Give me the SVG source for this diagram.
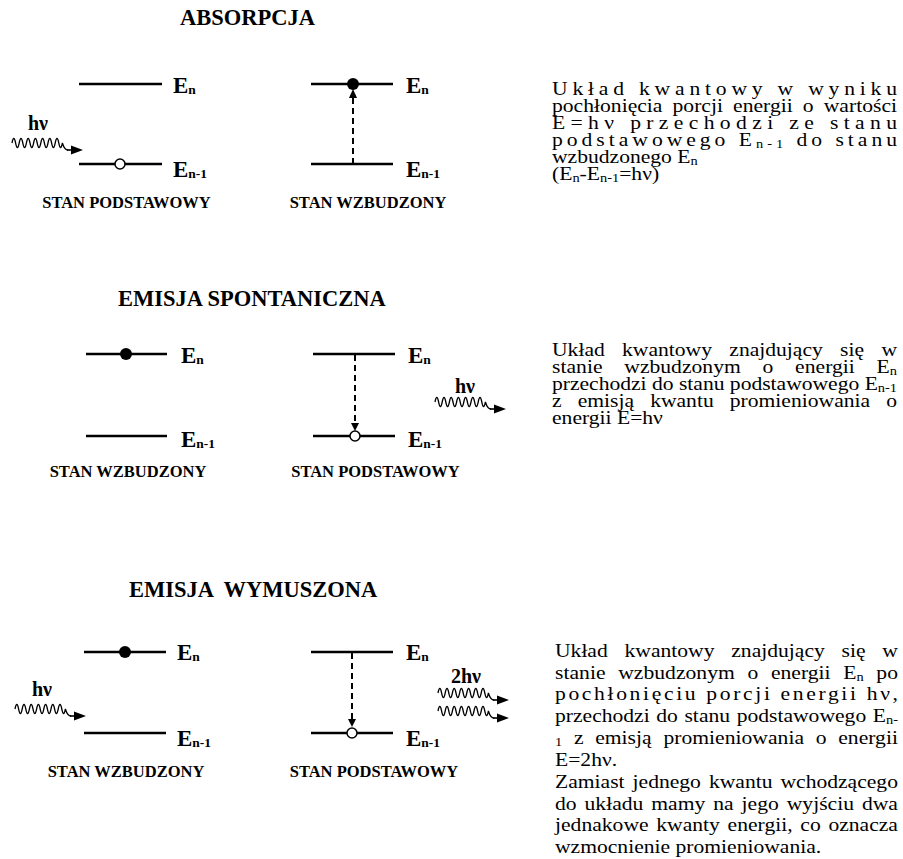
<svg xmlns="http://www.w3.org/2000/svg" width="903" height="859" viewBox="0 0 903 859">
<style>
text{font-family:"Liberation Serif","Times New Roman",serif;fill:#000}
.hd{font-weight:bold;font-size:22.5px}
.e{font-weight:bold;font-size:23px}
.sub{font-size:13.5px}
.st{font-weight:bold;font-size:16.5px;text-anchor:middle}
.hv{font-weight:bold;font-size:20px}
.p{font-size:18px}
.ps{font-size:12px}
.lvl{stroke:#000;stroke-width:2.5;fill:none}
.dash{stroke:#000;stroke-width:2;stroke-dasharray:6 4;fill:none}
.dot{fill:#000}
.hole{fill:#fff;stroke:#000;stroke-width:1.5}
.wave{fill:none;stroke:#000;stroke-width:1.3}
.arl{fill:none;stroke:#000;stroke-width:1.6}
.ah{fill:#000}
</style>
<defs>
<g id="photon">
<path class="wave" d="M0,1 Q1.8,-8 3.6,1 T7.2,1 T10.8,1 T14.4,1 T18,1 T21.6,1 T25.2,1 T28.8,1 T32.4,1 T36,1 T39.6,1 T43.2,1 T46.8,1 T50.4,1 Q52.5,8 56,8"/>
<path class="arl" d="M55,8 L61,8"/>
<polygon class="ah" points="59,3.5 71,8 59,12.5"/>
</g>
</defs>

<!-- headings -->
<g id="headings">
<text class="hd" x="180" y="25">ABSORPCJA</text>
<text class="hd" x="118" y="306">EMISJA SPONTANICZNA</text>
<text class="hd" x="129" y="597" xml:space="preserve">EMISJA  WYMUSZONA</text>
</g>

<!-- ABSORPCJA: ground state -->
<g id="abs-ground">
<line class="lvl" x1="79" y1="84" x2="162" y2="84"/>
<line class="lvl" x1="79" y1="164" x2="162" y2="164"/>
<circle class="hole" cx="120" cy="164" r="5"/>
<text class="e" x="173" y="92.5">E<tspan class="sub" dy="1">n</tspan></text>
<text class="e" x="173" y="176.5">E<tspan class="sub" dy="1">n-1</tspan></text>
<text class="hv" x="28" y="130">hν</text>
<text class="st" x="126.5" y="207.5">STAN PODSTAWOWY</text>
</g>

<!-- ABSORPCJA: excited state -->
<g id="abs-excited">
<line class="lvl" x1="311" y1="84" x2="393" y2="84"/>
<line class="lvl" x1="311" y1="164" x2="393" y2="164"/>
<circle class="dot" cx="353" cy="84" r="6"/>
<text class="e" x="406" y="92.5">E<tspan class="sub" dy="1">n</tspan></text>
<text class="e" x="406" y="176.5">E<tspan class="sub" dy="1">n-1</tspan></text>
<text class="st" x="368" y="207.5">STAN WZBUDZONY</text>
</g>

<!-- EMISJA SPONTANICZNA: excited -->
<g id="spont-excited">
<line class="lvl" x1="86" y1="354" x2="167" y2="354"/>
<line class="lvl" x1="86" y1="436" x2="167" y2="436"/>
<circle class="dot" cx="126" cy="354" r="6"/>
<text class="e" x="181" y="362.5">E<tspan class="sub" dy="1">n</tspan></text>
<text class="e" x="181" y="447">E<tspan class="sub" dy="1">n-1</tspan></text>
<text class="st" x="128" y="477">STAN WZBUDZONY</text>
</g>

<!-- EMISJA SPONTANICZNA: ground -->
<g id="spont-ground">
<line class="lvl" x1="313" y1="354" x2="395" y2="354"/>
<line class="lvl" x1="313" y1="436" x2="395" y2="436"/>
<circle class="hole" cx="355" cy="436" r="5"/>
<text class="e" x="408" y="362.5">E<tspan class="sub" dy="1">n</tspan></text>
<text class="e" x="408" y="447">E<tspan class="sub" dy="1">n-1</tspan></text>
<text class="hv" x="455" y="393">hν</text>
<text class="st" x="375.5" y="477">STAN PODSTAWOWY</text>
</g>

<!-- EMISJA WYMUSZONA: excited -->
<g id="stim-excited">
<line class="lvl" x1="84" y1="652" x2="166" y2="652"/>
<line class="lvl" x1="84" y1="733" x2="166" y2="733"/>
<circle class="dot" cx="125" cy="652" r="6"/>
<text class="e" x="177" y="659.5">E<tspan class="sub" dy="1">n</tspan></text>
<text class="e" x="177" y="745.5">E<tspan class="sub" dy="1">n-1</tspan></text>
<text class="hv" x="32" y="696">hν</text>
<text class="st" x="126" y="777">STAN WZBUDZONY</text>
</g>

<!-- EMISJA WYMUSZONA: ground -->
<g id="stim-ground">
<line class="lvl" x1="311" y1="652" x2="393" y2="652"/>
<line class="lvl" x1="311" y1="733" x2="393" y2="733"/>
<circle class="hole" cx="352" cy="733" r="5"/>
<text class="e" x="406" y="659.5">E<tspan class="sub" dy="1">n</tspan></text>
<text class="e" x="406" y="745.5">E<tspan class="sub" dy="1">n-1</tspan></text>
<text class="hv" x="451" y="683">2hν</text>
<text class="st" x="374" y="777">STAN PODSTAWOWY</text>
</g>

<!-- connectors -->
<g id="connectors">
<line class="dash" x1="353" y1="164" x2="353" y2="97"/>
<polygon class="ah" points="349,98 353,89 357,98"/>
<line class="dash" x1="355" y1="355" x2="355" y2="423"/>
<polygon class="ah" points="351,423 355,431 359,423"/>
<line class="dash" x1="352" y1="653" x2="352" y2="719"/>
<polygon class="ah" points="348,719 352,727 356,719"/>
<use href="#photon" transform="translate(12,142)"/>
<use href="#photon" transform="translate(435,401)"/>
<use href="#photon" transform="translate(15,708)"/>
<use href="#photon" transform="translate(438,692)"/>
<use href="#photon" transform="translate(438,710)"/>
</g>

<!-- descriptions -->
<g id="text-absorpcja" class="p" transform="translate(552 0) scale(1.2 1)">
<text class="p" x="0" y="95" textLength="287.5" lengthAdjust="spacing">Układ kwantowy w wyniku</text>
<text class="p" x="0" y="112" textLength="287.5" lengthAdjust="spacing" word-spacing="3.9">pochłonięcia porcji energii o wartości</text>
<text class="p" x="0" y="129" textLength="287.5" lengthAdjust="spacing">E=hν przechodzi ze stanu</text>
<text class="p" x="0" y="146" textLength="287.5" lengthAdjust="spacing">podstawowego E<tspan class="ps" dy="2">n-1</tspan><tspan dy="-2"> do stanu</tspan></text>
<text class="p" x="0" y="163">wzbudzonego E<tspan class="ps" dy="2">n</tspan></text>
<text class="p" x="0" y="180">(E<tspan class="ps" dy="2">n</tspan><tspan dy="-2">-E</tspan><tspan class="ps" dy="2">n-1</tspan><tspan dy="-2">=hν)</tspan></text>
</g>

<g id="text-spontaniczna" class="p" transform="translate(552 0) scale(1.2 1)">
<text class="p" x="0" y="356" textLength="287.5" lengthAdjust="spacing" word-spacing="9.9">Układ kwantowy znajdujący się w</text>
<text class="p" x="0" y="373" textLength="287.5" lengthAdjust="spacing" word-spacing="13.6">stanie wzbudzonym o energii E<tspan class="ps" dy="2">n</tspan></text>
<text class="p" x="0" y="390" textLength="287.5" lengthAdjust="spacing">przechodzi do stanu podstawowego E<tspan class="ps" dy="2">n-1</tspan></text>
<text class="p" x="0" y="407" textLength="287.5" lengthAdjust="spacing" word-spacing="8.9">z emisją kwantu promieniowania o</text>
<text class="p" x="0" y="424">energii E=hν</text>
</g>

<g id="text-wymuszona" class="p" transform="translate(555 0) scale(1.2 1)">
<text class="p" x="0" y="657" textLength="285.8" lengthAdjust="spacing" word-spacing="9.5">Układ kwantowy znajdujący się w</text>
<text class="p" x="0" y="679" textLength="285.8" lengthAdjust="spacing" word-spacing="6">stanie wzbudzonym o energii E<tspan class="ps" dy="2">n</tspan><tspan dy="-2"> po</tspan></text>
<text class="p" x="0" y="700" textLength="285.8" lengthAdjust="spacing">pochłonięciu porcji energii hν,</text>
<text class="p" x="0" y="722" textLength="285.8" lengthAdjust="spacing" word-spacing="1">przechodzi do stanu podstawowego E<tspan class="ps" dy="2">n-</tspan></text>
<text class="p" x="0" y="744" textLength="285.8" lengthAdjust="spacing" word-spacing="5.2"><tspan class="ps" dy="2">1</tspan><tspan dy="-2"> z emisją promieniowania o energii</tspan></text>
<text class="p" x="0" y="766">E=2hν.</text>
<text class="p" x="0" y="788" textLength="285.8" lengthAdjust="spacing" word-spacing="2.2">Zamiast jednego kwantu wchodzącego</text>
<text class="p" x="0" y="810" textLength="285.8" lengthAdjust="spacing" word-spacing="2.1">do układu mamy na jego wyjściu dwa</text>
<text class="p" x="0" y="831" textLength="285.8" lengthAdjust="spacing" word-spacing="1.9">jednakowe kwanty energii, co oznacza</text>
<text class="p" x="0" y="853">wzmocnienie promieniowania.</text>
</g>
</svg>
